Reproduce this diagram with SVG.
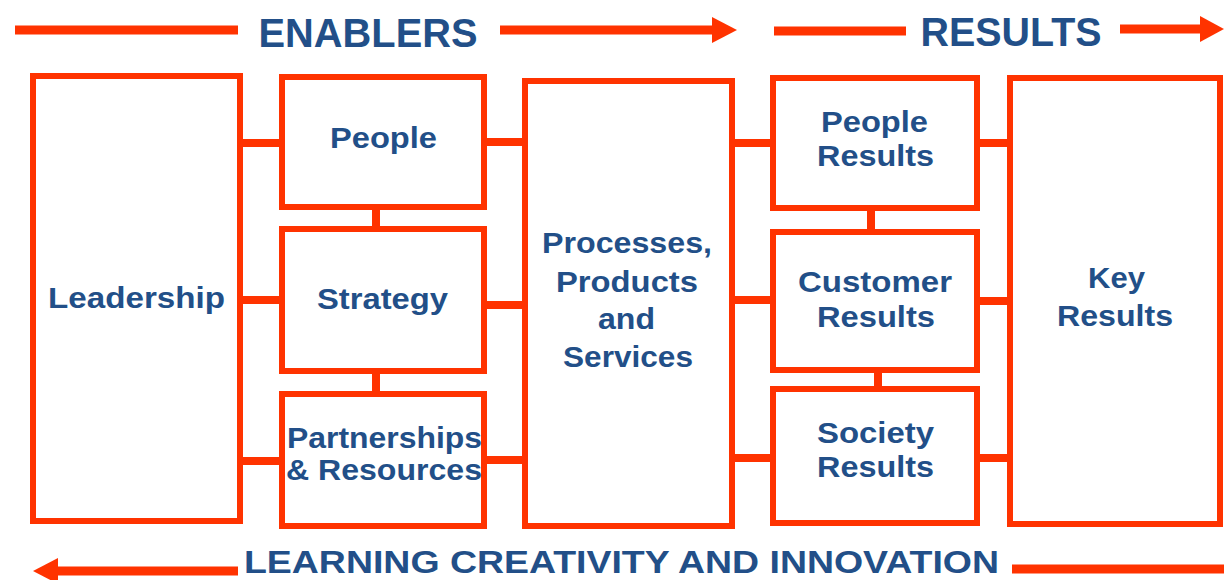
<svg xmlns="http://www.w3.org/2000/svg" width="1224" height="580" viewBox="0 0 1224 580">
  <style>
    .box { fill: #ffffff; stroke: #ff3300; stroke-width: 6; }
    .conn { stroke: #ff3300; stroke-width: 8; fill: none; }
    .band { stroke: #ff3300; stroke-width: 9; fill: none; }
    .head { fill: #ff3300; }
    .lbl { font-family: "Liberation Sans", Arial, sans-serif; font-weight: bold; font-size: 30px; fill: #224f88; text-anchor: middle; }
    .title { font-family: "Liberation Sans", Arial, sans-serif; font-weight: bold; font-size: 41px; fill: #224f88; text-anchor: middle; }
  </style>
  <rect width="1224" height="580" fill="#ffffff"/>

  <g id="bands">
    <line class="band" x1="15" y1="30" x2="238" y2="30"/>
    <text class="title" x="368" y="47" textLength="219" lengthAdjust="spacingAndGlyphs">ENABLERS</text>
    <line class="band" x1="500" y1="30" x2="714" y2="30"/>
    <polygon class="head" points="712,17 737,30 712,43"/>
    <line class="band" x1="774" y1="31" x2="906" y2="31"/>
    <text class="title" x="1011" y="46" textLength="181" lengthAdjust="spacingAndGlyphs">RESULTS</text>
    <line class="band" x1="1120" y1="29" x2="1202" y2="29"/>
    <polygon class="head" points="1200,16 1224,29 1200,42"/>
    <line class="band" x1="55" y1="571" x2="238" y2="571"/>
    <polygon class="head" points="58,558 33,571 58,584"/>
    <text class="title" x="621.5" y="573" style="font-size:31px" textLength="755" lengthAdjust="spacingAndGlyphs">LEARNING CREATIVITY AND INNOVATION</text>
    <line class="band" x1="1012" y1="569" x2="1224" y2="569"/>
  </g>

  <g id="connectors">
    <line class="conn" x1="240" y1="143" x2="282" y2="143"/>
    <line class="conn" x1="240" y1="300" x2="282" y2="300"/>
    <line class="conn" x1="240" y1="461" x2="282" y2="461"/>
    <line class="conn" x1="484" y1="142" x2="525" y2="142"/>
    <line class="conn" x1="484" y1="305" x2="525" y2="305"/>
    <line class="conn" x1="484" y1="460" x2="525" y2="460"/>
    <line class="conn" x1="732" y1="143" x2="773" y2="143"/>
    <line class="conn" x1="732" y1="300" x2="773" y2="300"/>
    <line class="conn" x1="732" y1="458" x2="773" y2="458"/>
    <line class="conn" x1="977" y1="143" x2="1010" y2="143"/>
    <line class="conn" x1="977" y1="301" x2="1010" y2="301"/>
    <line class="conn" x1="977" y1="458" x2="1010" y2="458"/>
    <line class="conn" x1="376" y1="207" x2="376" y2="229"/>
    <line class="conn" x1="376" y1="371" x2="376" y2="394"/>
    <line class="conn" x1="871" y1="208" x2="871" y2="232"/>
    <line class="conn" x1="878" y1="370" x2="878" y2="389"/>
  </g>

  <g id="leadership">
    <rect class="box" x="33" y="76" width="207" height="445"/>
    <text class="lbl" x="136.5" y="308" textLength="177" lengthAdjust="spacingAndGlyphs">Leadership</text>
  </g>
  <g id="people">
    <rect class="box" x="282" y="77" width="202" height="130"/>
    <text class="lbl" x="383.5" y="148" textLength="107" lengthAdjust="spacingAndGlyphs">People</text>
  </g>
  <g id="strategy">
    <rect class="box" x="282" y="229" width="202" height="142"/>
    <text class="lbl" x="382.5" y="309" textLength="131" lengthAdjust="spacingAndGlyphs">Strategy</text>
  </g>
  <g id="partnerships">
    <rect class="box" x="282" y="394" width="202" height="132"/>
    <text class="lbl" x="384.5" y="448" textLength="195" lengthAdjust="spacingAndGlyphs">Partnerships</text>
    <text class="lbl" x="384" y="480" textLength="196" lengthAdjust="spacingAndGlyphs">&amp; Resources</text>
  </g>
  <g id="processes">
    <rect class="box" x="525" y="81" width="207" height="445"/>
    <text class="lbl" x="627" y="253" textLength="170" lengthAdjust="spacingAndGlyphs">Processes,</text>
    <text class="lbl" x="627" y="292" textLength="142" lengthAdjust="spacingAndGlyphs">Products</text>
    <text class="lbl" x="626.5" y="329" textLength="57" lengthAdjust="spacingAndGlyphs">and</text>
    <text class="lbl" x="628" y="367" textLength="130" lengthAdjust="spacingAndGlyphs">Services</text>
  </g>
  <g id="people-results">
    <rect class="box" x="773" y="78" width="204" height="130"/>
    <text class="lbl" x="874.5" y="132" textLength="107" lengthAdjust="spacingAndGlyphs">People</text>
    <text class="lbl" x="875.5" y="166" textLength="117" lengthAdjust="spacingAndGlyphs">Results</text>
  </g>
  <g id="customer-results">
    <rect class="box" x="773" y="232" width="204" height="138"/>
    <text class="lbl" x="875" y="292" textLength="154" lengthAdjust="spacingAndGlyphs">Customer</text>
    <text class="lbl" x="876" y="327" textLength="118" lengthAdjust="spacingAndGlyphs">Results</text>
  </g>
  <g id="society-results">
    <rect class="box" x="773" y="389" width="204" height="134"/>
    <text class="lbl" x="875.5" y="443" textLength="117" lengthAdjust="spacingAndGlyphs">Society</text>
    <text class="lbl" x="875.5" y="477" textLength="117" lengthAdjust="spacingAndGlyphs">Results</text>
  </g>
  <g id="key-results">
    <rect class="box" x="1010" y="78" width="210" height="446"/>
    <text class="lbl" x="1116.5" y="288" textLength="57" lengthAdjust="spacingAndGlyphs">Key</text>
    <text class="lbl" x="1115" y="326" textLength="116" lengthAdjust="spacingAndGlyphs">Results</text>
  </g>
</svg>
